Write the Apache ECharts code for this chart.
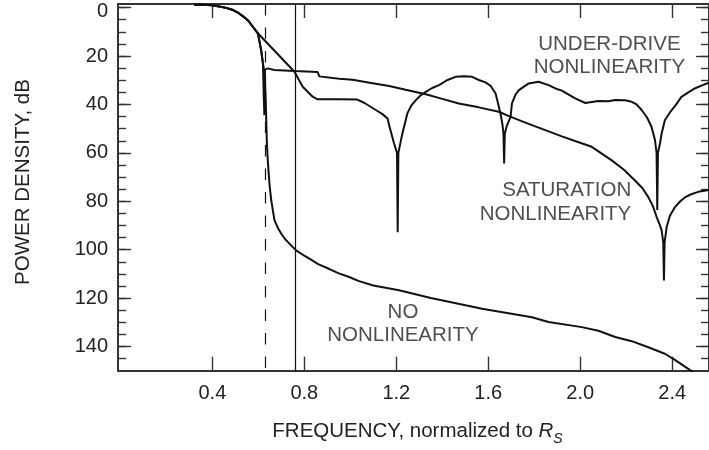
<!DOCTYPE html>
<html>
<head>
<meta charset="utf-8">
<script src="https://cdn.jsdelivr.net/npm/echarts@6/dist/echarts.min.js"></script>
<style>
  html, body { margin: 0; padding: 0; background: #fff; }
  #chart { width: 709px; height: 450px; }
</style>
</head>
<body>
<div id="chart"></div>
<script>
// Common passband roll-off shared by all three spectra
const headFreq = [0.32, 0.36, 0.40, 0.43, 0.46, 0.49, 0.515, 0.535, 0.555, 0.576, 0.598];
const headDb   = [-1.2, -1.2, -1.0, -0.5, 0.1, 1.0, 2.3, 3.7, 5.3, 7.9, 10.6];

// Under-drive nonlinearity
const underDriveFreq = [0.757, 0.793, 0.836, 0.858, 0.952, 1.03, 1.06, 1.111, 1.14, 1.162, 1.17, 1.19, 1.203, 1.206, 1.209, 1.222,
  1.227, 1.248, 1.265, 1.285, 1.305, 1.328, 1.356, 1.386, 1.42, 1.458, 1.495, 1.53, 1.559, 1.588, 1.61, 1.632, 1.653,
  1.662, 1.666, 1.669, 1.672, 1.68, 1.697, 1.703, 1.718, 1.733, 1.776, 1.819, 1.862, 1.892, 1.92, 1.978, 2.022, 2.079,
  2.123, 2.152, 2.195, 2.224, 2.245, 2.267, 2.29, 2.31, 2.325, 2.332, 2.335, 2.338, 2.347, 2.354, 2.368, 2.39, 2.415,
  2.44, 2.47, 2.498, 2.527, 2.56];
const underDriveDb = [26.5, 32.7, 36.8, 37.9, 37.9, 38.0, 39.3, 42.3, 44.0, 45.8, 49.0, 56.0, 60.0, 92.8, 60.0, 54.0,
  51.8, 43.7, 40.5, 38.2, 36.3, 34.8, 33.2, 32.0, 30.0, 28.6, 28.3, 28.6, 29.9, 30.9, 32.3, 35.5, 43.7,
  48.5, 52.0, 64.4, 52.0, 49.0, 45.1, 39.6, 36.0, 34.1, 31.3, 30.6, 32.0, 33.4, 34.3, 37.5, 39.4, 38.6,
  38.7, 38.2, 38.3, 38.9, 40.0, 42.3, 45.3, 49.2, 54.7, 60.0, 83.6, 60.0, 56.0, 52.0, 46.5, 43.3, 40.3,
  36.9, 35.0, 33.4, 32.2, 31.0];

// Saturation nonlinearity
const saturationFreq = [0.612, 0.62, 0.623, 0.626, 0.629, 0.641, 0.67, 0.757, 0.858, 0.865, 0.952, 1.01, 1.09, 1.169,
  1.25, 1.328, 1.40, 1.472, 1.559, 1.646, 1.69, 1.77, 1.848, 1.92, 1.993, 2.05, 2.137, 2.19, 2.238, 2.27, 2.296,
  2.316, 2.332, 2.345, 2.354, 2.361, 2.364, 2.367, 2.376, 2.39, 2.412, 2.435, 2.455, 2.48, 2.513, 2.56];
const saturationDb = [17.5, 23.0, 35.0, 44.4, 25.6, 25.1, 25.8, 26.2, 26.6, 28.4, 29.4, 29.8, 31.1, 32.4,
  34.1, 35.8, 37.7, 39.6, 41.2, 43.0, 44.8, 47.8, 50.6, 53.2, 55.6, 57.5, 63.1, 67.0, 71.4, 74.5, 78.3,
  82.0, 86.4, 89.5, 92.0, 97.0, 112.7, 97.0, 90.6, 86.0, 82.4, 80.0, 78.4, 77.2, 76.1, 75.3];

// No nonlinearity
const linearFreq = [0.612, 0.62, 0.627, 0.631, 0.634, 0.637, 0.641, 0.645, 0.649, 0.656, 0.67, 0.685, 0.699, 0.715,
  0.735, 0.764, 0.80, 0.822, 0.86, 0.909, 0.95, 0.995, 1.038, 1.10, 1.212, 1.35, 1.501, 1.573, 1.79, 1.862, 2.007,
  2.079, 2.152, 2.224, 2.296, 2.368, 2.412, 2.455, 2.491, 2.51];
const linearDb = [17.5, 23.0, 27.0, 35.0, 45.0, 56.0, 63.0, 68.5, 73.5, 79.5, 87.8, 91.0, 93.3, 95.5,
  97.5, 100.3, 102.5, 103.7, 106.0, 108.0, 109.8, 111.3, 113.0, 114.8, 116.8, 120.0, 123.0, 124.4, 127.9, 129.9, 132.0,
  133.5, 136.1, 137.8, 140.3, 143.0, 145.5, 148.3, 150.6, 152.0];

// Reference frequencies (dashed, solid)
const markerFreqs = [0.633, 0.764];

// Axis ticks
const xTicks = [0.4, 0.8, 1.2, 1.6, 2.0, 2.4];
const yMajorTicks = [0, 20, 40, 60, 80, 100, 120, 140];
const yMinorTicks = [0, 5, 10, 15, 20, 25, 30, 35, 40, 45, 50, 55, 60, 65, 70, 75, 80, 85, 90, 95, 100,
  105, 110, 115, 120, 125, 130, 135, 140, 145];

// Curve labels
const labelText = ['UNDER-DRIVE\nNONLINEARITY', 'SATURATION\nNONLINEARITY', 'NO\nNONLINEARITY'];
const labelFreq = [2.127, 2.222, 1.229];
const labelDb = [19.9, 80.4, 130.6];
const labelAlign = ['center', 'right', 'center'];

const FONT = '"Liberation Sans", Arial, Helvetica, sans-serif';
const INK = '#111';
const TEXT = '#222';
const AXIS = '#333';

function pairs(fx, fy) { return fx.map((v, i) => [v, fy[i]]); }
const withHead = (fx, fy) => pairs(headFreq.concat(fx), headDb.concat(fy));

const X_MIN = -0.01, X_MAX = 2.56, Y_MIN = -1.5, Y_MAX = 150;

function yAxisDef(pos, tickValues, tickLen, showLabels) {
  return {
    type: 'value', position: pos, inverse: true, min: Y_MIN, max: Y_MAX,
    axisLine: { show: true, onZero: false, lineStyle: { color: AXIS, width: 2 } },
    axisTick: { show: true, inside: true, length: tickLen, customValues: tickValues, lineStyle: { color: AXIS, width: 1.4 } },
    axisLabel: showLabels ? {
      show: true, customValues: yMajorTicks, margin: 10, color: TEXT, fontFamily: FONT, fontSize: 20,
      formatter: v => (v === 0 ? '{z|0}' : String(v)),
      rich: { z: { fontFamily: FONT, fontSize: 20, color: TEXT, padding: [8, 0, 0, 0] } }
    } : { show: false },
    splitLine: { show: false }
  };
}

function xAxisDef(pos, showLabels) {
  return {
    type: 'value', position: pos, min: X_MIN, max: X_MAX,
    axisLine: { show: true, onZero: false, lineStyle: { color: AXIS, width: 2 } },
    axisTick: { show: true, inside: true, length: 14, customValues: xTicks, lineStyle: { color: AXIS, width: 1.4 } },
    axisLabel: showLabels ? {
      show: true, customValues: xTicks, margin: 13, color: TEXT, fontFamily: FONT, fontSize: 20,
      formatter: v => v.toFixed(1)
    } : { show: false },
    splitLine: { show: false }
  };
}

const curveStyle = { color: INK, width: 2 };
function curve(name, data) {
  return { name, type: 'line', data, symbol: 'none', smooth: false, clip: true,
    lineStyle: curveStyle, itemStyle: { color: INK }, z: 3 };
}

const chart = echarts.init(document.getElementById('chart'), null, { renderer: 'canvas' });
chart.setOption({
  animation: false,
  backgroundColor: '#fff',
  grid: { left: 118.1, right: -1.9, top: 4, bottom: 79.3, containLabel: false },
  xAxis: [xAxisDef('bottom', true), xAxisDef('top', false)],
  yAxis: [
    yAxisDef('left', yMajorTicks, 13, true),
    yAxisDef('left', yMinorTicks, 8, false),
    yAxisDef('right', yMajorTicks, 13, false),
    yAxisDef('right', yMinorTicks, 8, false)
  ],
  series: [
    curve('NO NONLINEARITY', withHead(linearFreq, linearDb)),
    curve('SATURATION NONLINEARITY', withHead(saturationFreq, saturationDb)),
    curve('UNDER-DRIVE NONLINEARITY', withHead(underDriveFreq, underDriveDb)),
    {
      name: 'markers', type: 'line', data: [], symbol: 'none', silent: true,
      markLine: {
        silent: true, symbol: ['none', 'none'], animation: false,
        label: { show: false },
        data: [
          { xAxis: markerFreqs[0], lineStyle: { color: INK, width: 1.2, type: [11.5, 12] } },
          { xAxis: markerFreqs[1], lineStyle: { color: INK, width: 1.2, type: 'solid' } }
        ]
      }
    },
    {
      name: 'labels', type: 'scatter', symbolSize: 0, silent: true, z: 4,
      data: labelText.map((t, i) => ({
        name: t, value: [labelFreq[i], labelDb[i]],
        label: { align: labelAlign[i] }
      })),
      label: {
        show: true, position: 'inside', formatter: '{b}', color: TEXT,
        fontFamily: FONT, fontSize: 20.5, lineHeight: 23.5
      }
    }
  ],
  graphic: [
    {
      type: 'text', x: 23, y: 182, rotation: Math.PI / 2, silent: true,
      style: { text: 'POWER DENSITY, dB', fill: TEXT, font: '20.5px ' + FONT, align: 'center', verticalAlign: 'middle' }
    },
    {
      type: 'text', x: 417.5, y: 431, silent: true,
      style: {
        text: '{a|FREQUENCY, normalized to }{r|R}{s|S}', align: 'center', verticalAlign: 'middle', fill: TEXT,
        rich: {
          a: { fontFamily: FONT, fontSize: 20.5, lineHeight: 30, fill: TEXT, verticalAlign: 'middle' },
          r: { fontFamily: FONT, fontSize: 20.5, fontStyle: 'italic', lineHeight: 30, fill: TEXT, verticalAlign: 'middle' },
          s: { fontFamily: FONT, fontSize: 14, fontStyle: 'italic', fill: TEXT, verticalAlign: 'bottom' }
        }
      }
    }
  ]
});
</script>
</body>
</html>
